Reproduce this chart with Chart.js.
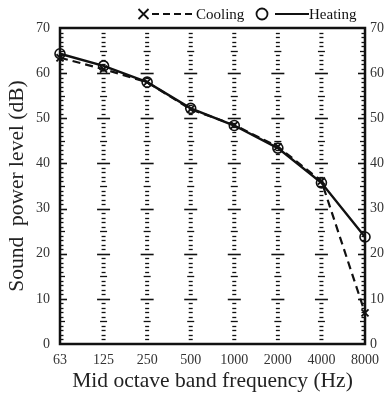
<!DOCTYPE html>
<html>
<head>
<meta charset="utf-8">
<script src="https://cdn.jsdelivr.net/npm/chart.js@4.4.1/dist/chart.umd.min.js"></script>
<style>
  html, body { margin: 0; padding: 0; background: #fff; }
  #wrap { width: 384px; height: 394px; }
</style>
</head>
<body>
<div id="wrap"><canvas id="c" width="384" height="394"></canvas></div>
<script>
const bands = ['63', '125', '250', '500', '1000', '2000', '4000', '8000'];
const cooling = [63.4, 60.9, 58.0, 52.0, 48.5, 43.7, 36.1, 6.9];
const heating = [64.3, 61.6, 58.0, 52.2, 48.4, 43.4, 35.7, 23.7];
const yTicks = [0, 10, 20, 30, 40, 50, 60, 70];
const SERIF = "'Liberation Serif', 'DejaVu Serif', serif";

// ticks on the category lines and the inner side of both axes
const tickGrid = {
  id: 'tickGrid',
  beforeDatasetsDraw(chart) {
    const { ctx, chartArea: a, scales } = chart;
    const y = scales.y, x = scales.x;
    ctx.save();
    ctx.strokeStyle = '#111';
    for (let v = 1; v < 70; v++) {
      const py = Math.round(y.getPixelForValue(v)) + 0.5;
      const major = v % 10 === 0, mid = v % 5 === 0;
      ctx.lineWidth = major ? 1.6 : 1.3;
      const half = major ? 6.5 : (mid ? 3.5 : 2);
      for (let i = 1; i < bands.length - 1; i++) {
        const px = x.getPixelForValue(i);
        ctx.beginPath(); ctx.moveTo(px - half, py); ctx.lineTo(px + half, py); ctx.stroke();
      }
      const len = major ? 7 : (mid ? 5 : 3.5);
      ctx.beginPath(); ctx.moveTo(a.left, py); ctx.lineTo(a.left + len, py); ctx.stroke();
      ctx.beginPath(); ctx.moveTo(a.right, py); ctx.lineTo(a.right - len, py); ctx.stroke();
    }
    ctx.lineWidth = 2.5;
    ctx.strokeRect(a.left, a.top, a.right - a.left, a.bottom - a.top);
    ctx.restore();
  }
};

// legend: marker, line sample, label
const topLegend = {
  id: 'topLegend',
  afterDraw(chart) {
    const { ctx } = chart;
    const cy = 14;
    ctx.save();
    ctx.strokeStyle = '#111';
    ctx.fillStyle = '#111';
    ctx.lineWidth = 1.8;
    // cross
    ctx.beginPath();
    ctx.moveTo(138.5, cy - 5); ctx.lineTo(148.5, cy + 5);
    ctx.moveTo(148.5, cy - 5); ctx.lineTo(138.5, cy + 5);
    ctx.stroke();
    ctx.setLineDash([7, 4]);
    ctx.beginPath(); ctx.moveTo(152, cy); ctx.lineTo(196, cy); ctx.stroke();
    ctx.setLineDash([]);
    // circle
    ctx.beginPath(); ctx.arc(262, cy, 5.5, 0, Math.PI * 2); ctx.stroke();
    ctx.lineWidth = 2;
    ctx.beginPath(); ctx.moveTo(275, cy); ctx.lineTo(309, cy); ctx.stroke();
    ctx.font = '15px ' + SERIF;
    ctx.textBaseline = 'middle';
    ctx.fillText('Cooling', 196, cy + 1);
    ctx.fillText('Heating', 309, cy + 1);
    ctx.restore();
  }
};

new Chart(document.getElementById('c').getContext('2d'), {
  type: 'line',
  data: {
    labels: bands,
    datasets: [
      { label: 'Cooling', data: cooling, borderColor: '#111', borderWidth: 2.2, borderDash: [8, 5],
        pointStyle: 'crossRot', pointRadius: 5, pointBorderWidth: 1.8, pointBorderColor: '#111',
        tension: 0, fill: false, clip: false },
      { label: 'Heating', data: heating, borderColor: '#111', borderWidth: 2.4,
        pointStyle: 'circle', pointRadius: 5, pointBorderWidth: 1.6, pointBorderColor: '#111',
        pointBackgroundColor: 'rgba(255,255,255,0)', tension: 0, fill: false, clip: false }
    ]
  },
  options: {
    responsive: false, animation: false,
    layout: { padding: { top: 28, left: 0, right: 0, bottom: 0 } },
    plugins: { legend: { display: false }, tooltip: { enabled: false } },
    scales: {
      x: {
        offset: false,
        grid: { display: false, drawTicks: false }, border: { display: false },
        ticks: { color: '#333', font: { family: SERIF, size: 14 }, padding: 8, maxRotation: 0, autoSkip: false },
        title: { display: true, text: 'Mid octave band frequency (Hz)', color: '#222',
                 font: { family: SERIF, size: 21.5 }, padding: { top: 0, bottom: 0 } },
        afterFit(s) { s.height = 50; s.paddingLeft = 0; s.paddingRight = 0; }
      },
      y: {
        min: 0, max: 70,
        afterBuildTicks(s) { s.ticks = yTicks.map(v => ({ value: v })); },
        grid: { display: false, drawTicks: false }, border: { display: false },
        ticks: { color: '#333', font: { family: SERIF, size: 14 }, padding: 10 },
        title: { display: true, text: 'Sound  power level (dB)', color: '#222',
                 font: { family: SERIF, size: 21.5 }, padding: { top: 4, bottom: 4 } },
        afterFit(s) { s.width = 60; s.paddingTop = 0; s.paddingBottom = 0; }
      },
      y2: {
        position: 'right', min: 0, max: 70,
        afterBuildTicks(s) { s.ticks = yTicks.map(v => ({ value: v })); },
        grid: { display: false, drawTicks: false }, border: { display: false },
        ticks: { color: '#333', font: { family: SERIF, size: 14 }, padding: 5 },
        afterFit(s) { s.width = 19; s.paddingTop = 0; s.paddingBottom = 0; }
      }
    }
  },
  plugins: [tickGrid, topLegend]
});
</script>
</body>
</html>
